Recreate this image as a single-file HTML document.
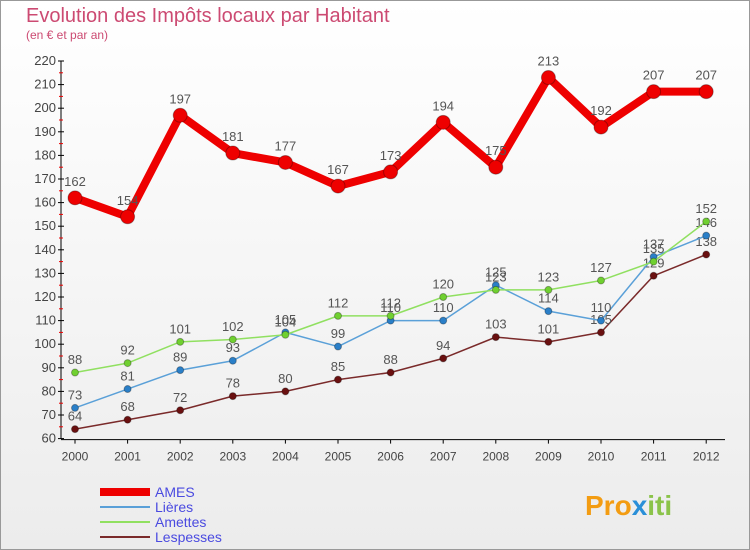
<!DOCTYPE html>
<html><head><meta charset="utf-8"><style>
body{margin:0;}
#wrap{width:750px;height:550px;position:relative;background:linear-gradient(#fff,#ececec);font-family:"Liberation Sans","DejaVu Sans",sans-serif;}
svg{position:absolute;left:0;top:0;}
</style></head><body>
<div id="wrap">
<svg id="c" width="750" height="550">
<rect x="0.5" y="0.5" width="749" height="549" fill="none" stroke="#999"/>
<text x="26" y="22" font-size="20" fill="#cc4a72">Evolution des Impôts locaux par Habitant</text>
<text x="26" y="39" font-size="12" fill="#cc4a72">(en € et par an)</text>
<g id="legend"></g>
<text x="585" y="515" font-size="28" font-weight="bold" fill="#f39c12">Pro<tspan fill="#2a8fd8">x</tspan><tspan fill="#8bc34a">iti</tspan></text>
</svg>
</div>
<script>
const years=["2000","2001","2002","2003","2004","2005","2006","2007","2008","2009","2010","2011","2012"];
const ames=[162,154,197,181,177,167,173,194,175,213,192,207,207];
const lieres=[73,81,89,93,105,99,110,110,125,114,110,137,146];
const amettes=[88,92,101,102,104,112,112,120,123,123,127,135,152];
const lespesses=[64,68,72,78,80,85,88,94,103,101,105,129,138];
const yTicks=[60,70,80,90,100,110,120,130,140,150,160,170,180,190,200,210,220];
const NS="http://www.w3.org/2000/svg";
const svg=document.getElementById('c');
const X=i=>75+i*52.6;
const Y=v=>61+(220-v)*2.36;
function mk(t,a,p){const e=document.createElementNS(NS,t);for(const k in a)e.setAttribute(k,a[k]);(p||svg).appendChild(e);return e;}
const ax=mk('line',{x1:61,y1:Y(220),x2:61,y2:Y(60),stroke:'#000'});


const xax=mk('line',{x1:61,y1:Y(60)+1,x2:725,y2:Y(60)+1,stroke:'#000'});


yTicks.forEach((v,i)=>{
 mk('line',{x1:58,y1:Y(v),x2:64,y2:Y(v),stroke:'#000'});
 if(i<yTicks.length-1)mk('line',{x1:59,y1:Y(v+5),x2:63,y2:Y(v+5),stroke:'#e00'});
 const t=mk('text',{x:56,y:Y(v)+4,'font-size':13,'text-anchor':'end',fill:'#444'});
 t.textContent=v;
 
 
});
years.forEach((y,i)=>{
 mk('line',{x1:X(i),y1:Y(60)+1,x2:X(i),y2:Y(60)+5,stroke:'#000'});
 const t=mk('text',{x:X(i),y:Y(60)+22,'font-size':12,'text-anchor':'middle',fill:'#444'});
 t.textContent=y;
 
 
});
function series(data,color,dot,w,r,name){
 const g=mk('g',{});
 
 
 mk('polyline',{points:data.map((v,i)=>X(i)+','+Y(v)).join(' '),fill:'none',stroke:color,'stroke-width':w,'stroke-linejoin':'round'},g);
 data.forEach((v,i)=>{
  const c=mk('circle',{cx:X(i),cy:Y(v),r:r,fill:dot,stroke:'rgba(0,0,0,0.3)'},g);
  
  
  const t=mk('text',{x:X(i),y:Y(v)-(r+5),'font-size':13,'text-anchor':'middle',fill:'#555'},g);
  t.textContent=v;
  
  
 });
}
series(lespesses,'#7a2a2a','#6a1010',1.5,3.5,'lespesses');
series(lieres,'#5aa0d8','#2a7fc8',1.5,3.5,'lieres');
series(amettes,'#90e060','#70d030',1.5,3.5,'amettes');
series(ames,'#ee0000','#ee0000',8,7,'ames');
const leg=document.getElementById('legend');
[['AMES','#ee0000',8],['Lières','#5aa0d8',2],['Amettes','#90e060',2],['Lespesses','#7a2a2a',2]].forEach((l,i)=>{
 const y=492+i*15;
 mk('line',{x1:100,y1:y,x2:150,y2:y,stroke:l[1],'stroke-width':l[2]},leg);
 const t=mk('text',{x:155,y:y+5,'font-size':14,fill:'#4a4ae0'},leg);
 t.textContent=l[0];
 
 
});
</script>
</body></html>
